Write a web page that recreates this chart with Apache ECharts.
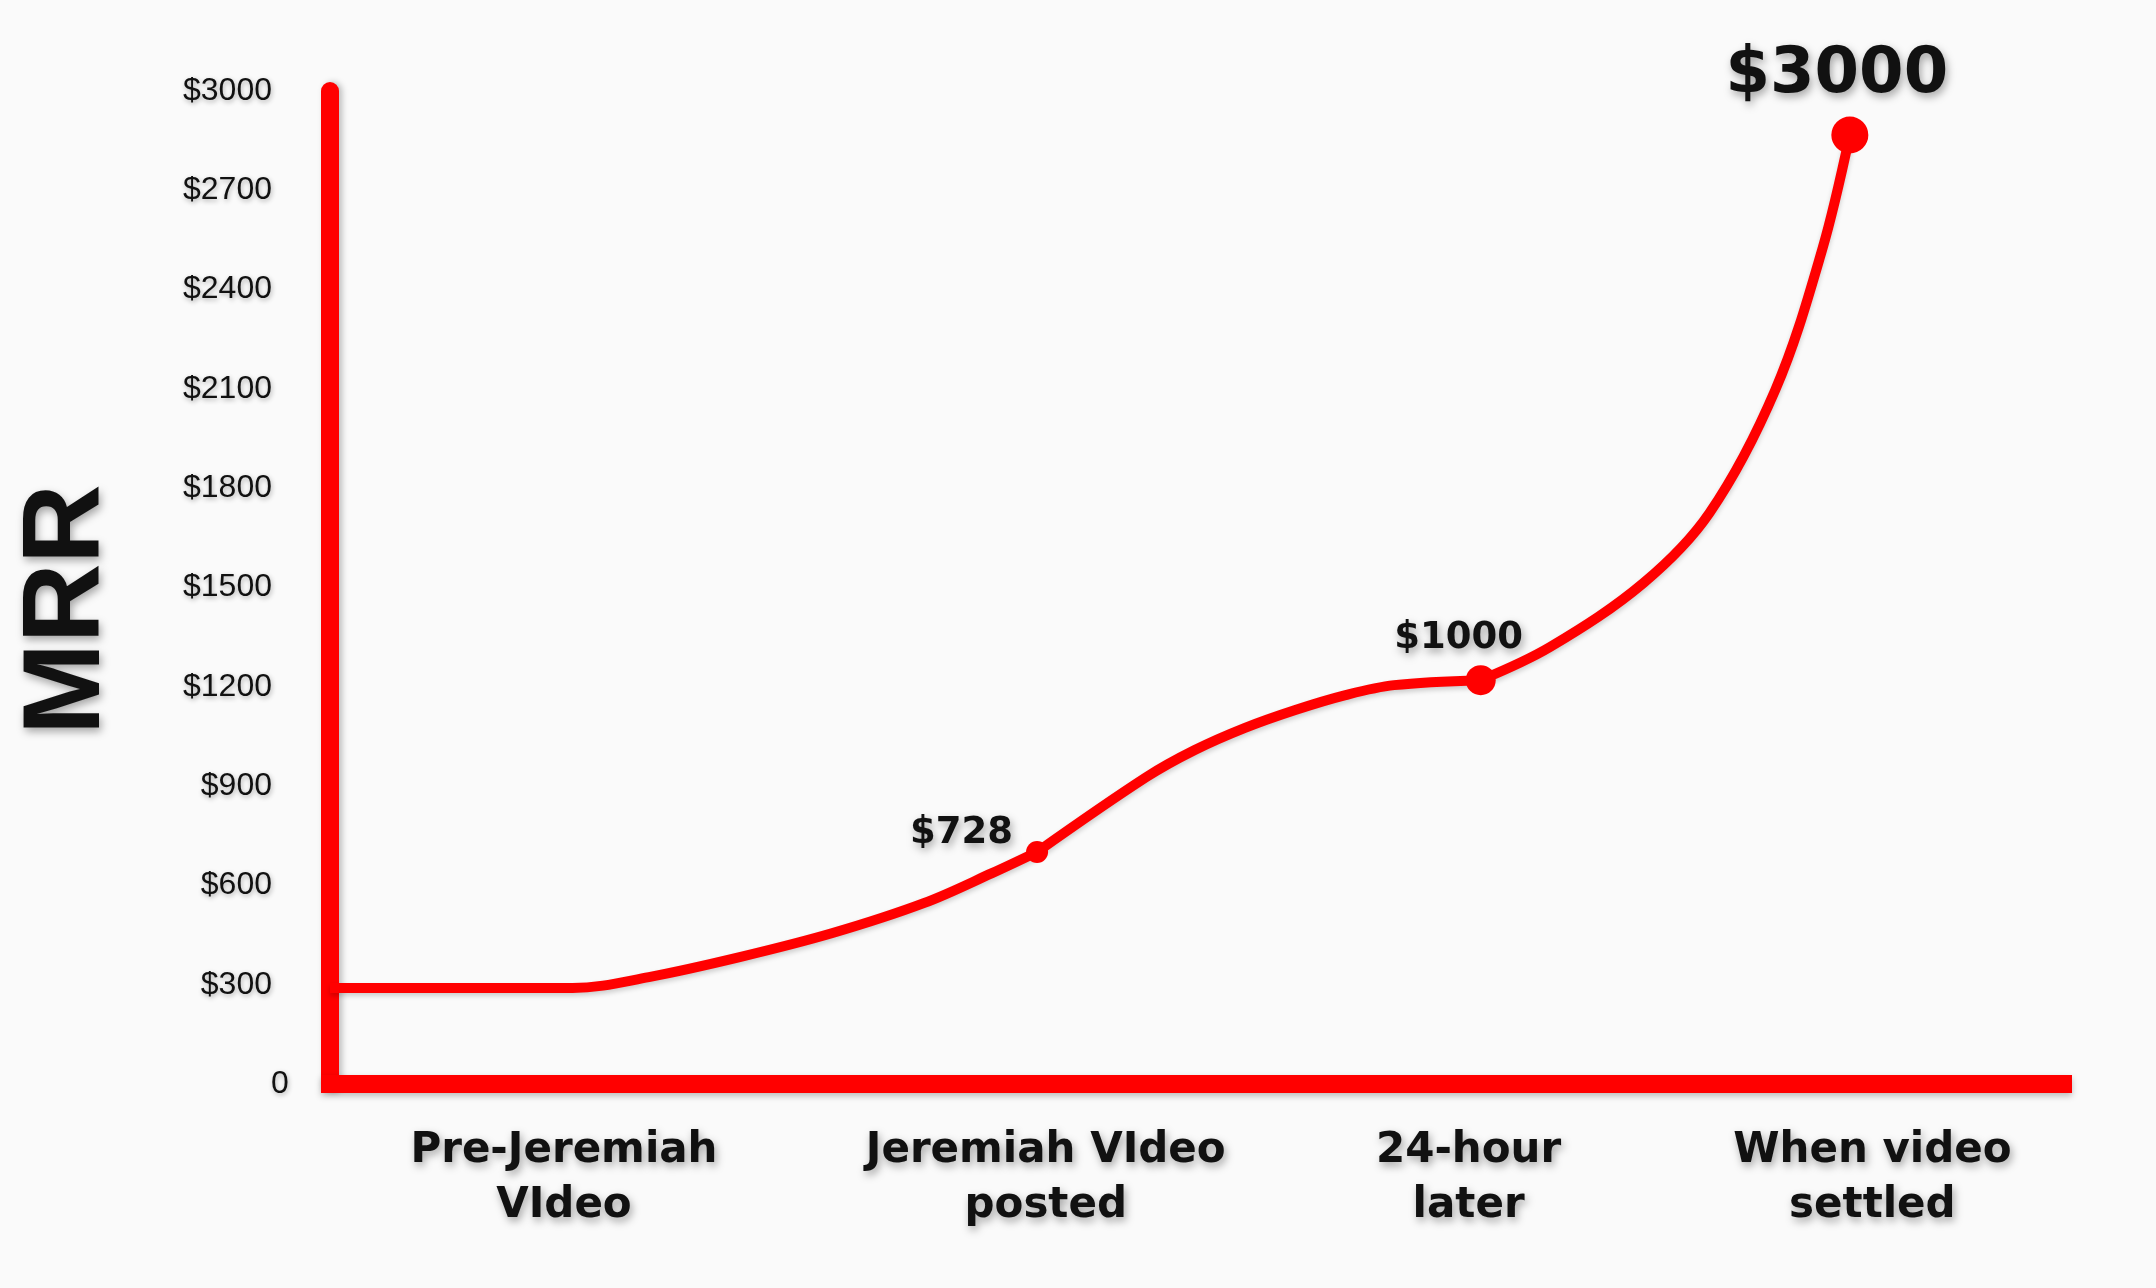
<!DOCTYPE html>
<html>
<head>
<meta charset="utf-8">
<script src="https://cdn.jsdelivr.net/npm/echarts@6/dist/echarts.min.js"></script>
<style>
html,body{margin:0;padding:0;background:#fafafa;}
#chart{width:2156px;height:1288px;}
</style>
</head>
<body>
<div id="chart"></div>
<script>
// ---- data ----
const categories = ['Pre-Jeremiah\nVIdeo', 'Jeremiah VIdeo\nposted', '24-hour\nlater', 'When video\nsettled'];
const categoryPos = [13.5, 41.3, 65.7, 89.0];

// traced MRR curve (x on a 0-100 timeline, y in $)
const curveX = [0, 14.0, 18.4, 23.7, 29.0, 34.3, 38.2, 40.8, 47.1, 49.9, 52.8, 55.7, 58.6, 61.4, 66.4, 70.4, 75.8, 79.6, 83.4, 86.1, 87.7];
const curveY = [290, 290, 323, 384, 456, 547, 637, 701, 927, 1009, 1076, 1130, 1175, 1205, 1220, 1320, 1514, 1725, 2097, 2520, 2867];

// highlighted milestones
const milestoneX = [40.8, 66.4, 87.7];
const milestoneY = [701, 1220, 2867];
const milestoneLabels = ['$728', '$1000', '$3000'];

const yMin = 0, yMax = 3000, yStep = 300;
const yAxisName = 'MRR';

// ---- chart ----
const RED = '#ff0000';
const INK = '#111111';
const shadow = {textShadowColor: 'rgba(0,0,0,0.35)', textShadowBlur: 8, textShadowOffsetX: 2, textShadowOffsetY: 4};
const tickShadow = {textShadowColor: 'rgba(0,0,0,0.3)', textShadowBlur: 5, textShadowOffsetX: 1, textShadowOffsetY: 2};

const dotSizes = [22, 30, 37];
const dotLabels = [
  {position: 'left', distance: 13, offset: [0, -19], fontSize: 37},
  {position: 'top', distance: 8, offset: [-22, 0], fontSize: 37},
  {position: 'top', distance: 9, offset: [-13, 0], fontSize: 64}
];

// split the traced curve into pieces that meet at the milestone dots
const pieces = [];
let cur = [];
curveX.forEach((x, i) => {
  cur.push([x, curveY[i]]);
  if (milestoneX.indexOf(x) >= 0 && i < curveX.length - 1) { pieces.push(cur); cur = [[x, curveY[i]]]; }
});
if (cur.length > 1) pieces.push(cur);

const lineSeries = pieces.map(p => ({
  type: 'line', smooth: 0.35, showSymbol: false, data: p,
  lineStyle: {color: RED, width: 10, shadowColor: 'rgba(0,0,0,0.18)', shadowBlur: 5, shadowOffsetY: 3},
  z: 3
}));

const chart = echarts.init(document.getElementById('chart'));
chart.setOption({
  backgroundColor: '#fafafa',
  animation: false,
  grid: {left: 330, right: 93, top: 91, bottom: 204, containLabel: false, outerBoundsMode: 'none'},
  xAxis: {
    type: 'value', min: 0, max: 100,
    axisLine: {show: true, onZero: false, lineStyle: {color: RED, width: 18, cap: 'square', shadowColor: 'rgba(0,0,0,0.25)', shadowBlur: 6, shadowOffsetY: 3}},
    axisTick: {show: false},
    splitLine: {show: false},
    axisLabel: {
      customValues: categoryPos,
      formatter: function (v, i) { const k = categoryPos.indexOf(v); return categories[k >= 0 ? k : i] || ''; },
      margin: 40,
      fontFamily: 'DejaVu Sans', fontWeight: 'bold', fontSize: 42, lineHeight: 55,
      color: INK, align: 'center', ...shadow
    }
  },
  yAxis: {
    type: 'value', min: yMin, max: yMax, interval: yStep,
    name: yAxisName, nameLocation: 'middle', nameRotate: 90, nameGap: 206,
    nameTextStyle: {fontFamily: 'Liberation Sans', fontWeight: 'bold', fontSize: 110, color: INK, padding: [0, 44, 0, 0], ...shadow},
    axisLine: {show: true, lineStyle: {color: RED, width: 18, shadowColor: 'rgba(0,0,0,0.25)', shadowBlur: 6, shadowOffsetX: 3}},
    axisTick: {show: false},
    splitLine: {show: false},
    axisLabel: {
      margin: 58,
      formatter: v => v === 0 ? '{z|0}' : '$' + v,
      fontFamily: 'Liberation Sans', fontSize: 32, color: INK, ...tickShadow,
      rich: {z: {width: 1, align: 'left', fontFamily: 'Liberation Sans', fontSize: 32, color: INK, ...tickShadow}}
    }
  },
  series: lineSeries.concat([
    {
      type: 'scatter',
      data: milestoneX.map((x, i) => ({
        value: [x, milestoneY[i]],
        symbolSize: dotSizes[i],
        label: {
          show: true, formatter: milestoneLabels[i],
          position: dotLabels[i].position, distance: dotLabels[i].distance, offset: dotLabels[i].offset,
          fontSize: dotLabels[i].fontSize, fontFamily: 'DejaVu Sans', fontWeight: 'bold', color: INK, ...shadow
        }
      })),
      itemStyle: {color: RED, opacity: 1},
      z: 4
    }
  ])
});
</script>
</body>
</html>
